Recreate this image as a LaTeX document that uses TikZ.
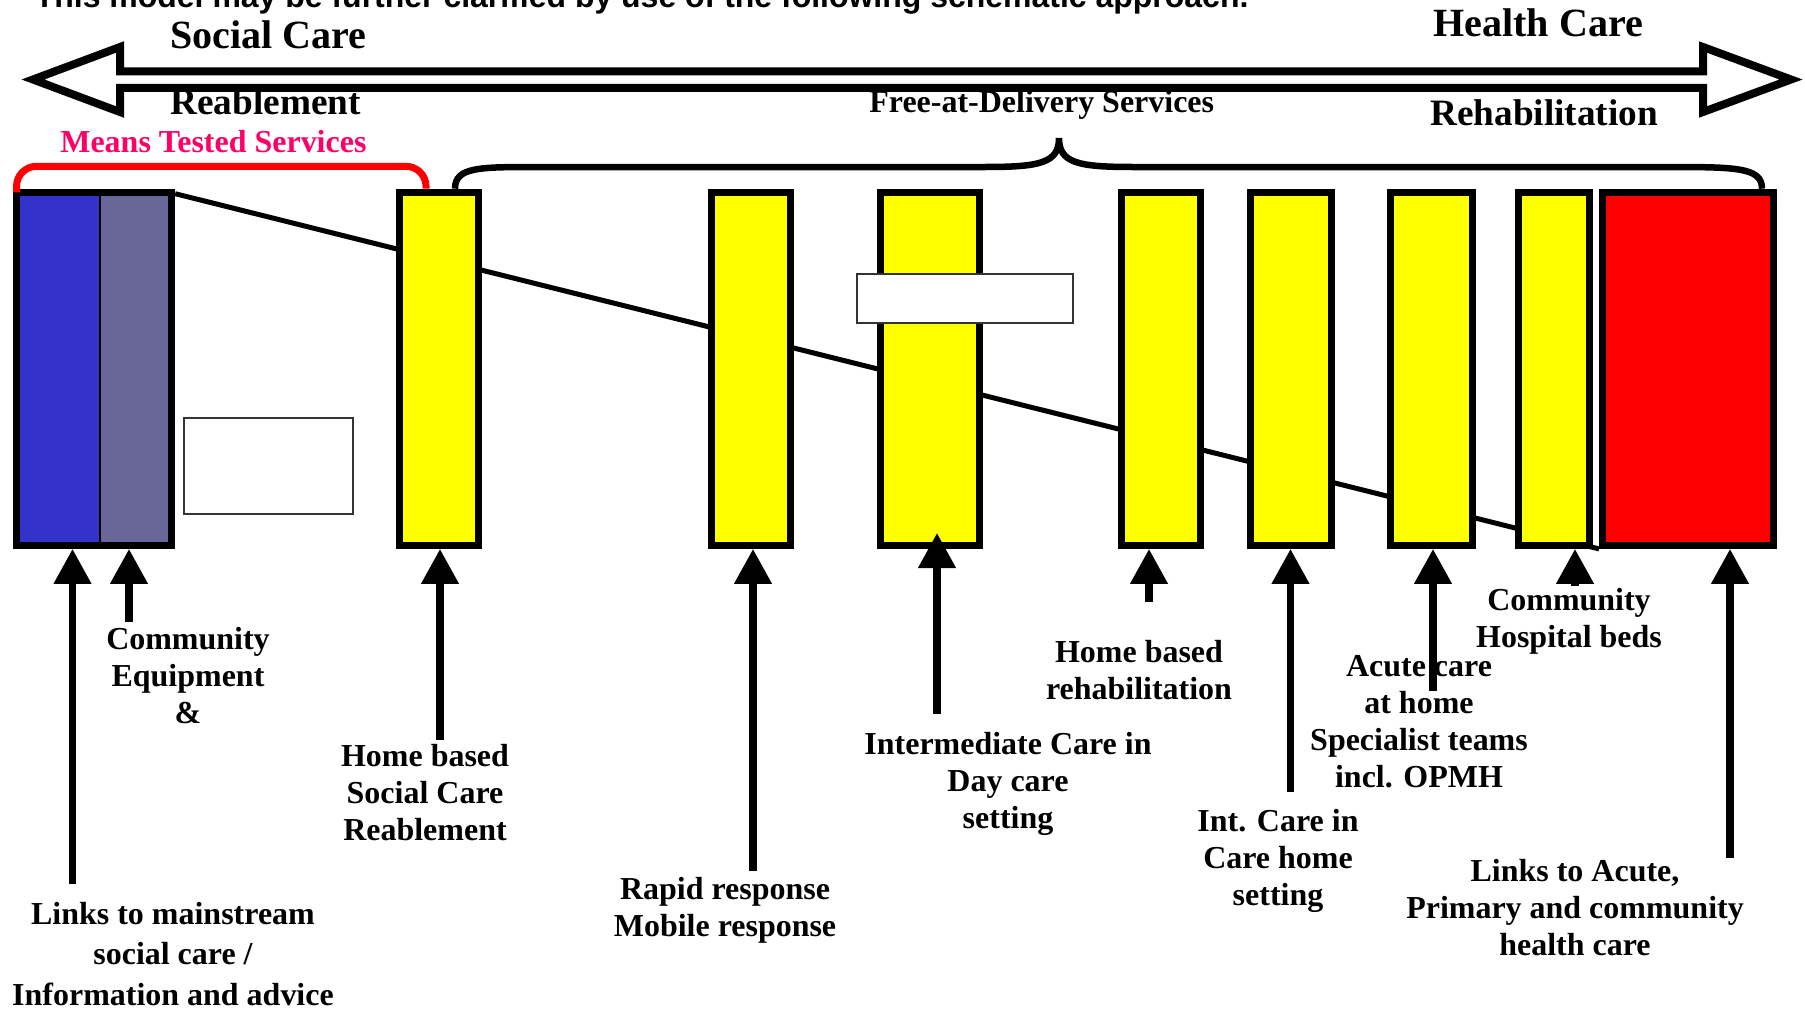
\documentclass[tikz,border=0pt]{standalone}
\usepackage{fontspec}
\setmainfont{Liberation Serif}
\newfontfamily\introfont{Liberation Sans}
\usepackage{xcolor}
\usepackage{tikz}
\usetikzlibrary{arrows.meta, fit, backgrounds}
\definecolor{careblue}{RGB}{51, 51, 204}
\definecolor{caregrey}{RGB}{102, 102, 153}
\definecolor{careolive}{RGB}{60, 60, 20}
\definecolor{careyellow}{RGB}{255, 255, 0}
\definecolor{carered}{RGB}{255, 0, 0}
\definecolor{carepink}{RGB}{255, 0, 102}

\begin{document}
\begin{tikzpicture}[
    x=0.02cm, y=-0.02cm,
    every node/.style={inner sep=0pt},
    heading/.style={font=\bfseries\fontsize{22.8}{26}\selectfont, anchor=base west},
    subheading/.style={font=\bfseries\fontsize{18.2}{21}\selectfont, anchor=base west},
    service/.style={font=\bfseries\fontsize{18.2}{21.05}\selectfont, align=center, anchor=base},
    box/.style={rectangle, draw=black, line width=0.146cm, minimum width=#1, minimum height=7.06cm},
    fillbox/.style={rectangle, draw=black, line width=0.04cm, minimum width=#1, minimum height=7.06cm, outer sep=0pt},
    blank/.style={rectangle, draw=black!80, fill=white, line width=0.03cm},
    arrow/.style={-{Triangle[length=0.7cm, width=0.72cm]}, line width=0.15cm},
    brace/.style={line width=0.13cm}
]
\useasboundingbox (0,0) rectangle (1805,1014);

\node[font=\introfont\bfseries\fontsize{18.2}{21}\selectfont, anchor=base west] (intro) at (34.5,8) {This model may be further clarified by use of the following schematic approach.};

\draw[line width=0.16cm, line join=miter] (33,79.5) -- (120,47) -- (120,71.25) -- (1703,71.25) -- (1703,47) -- (1791,79.5) -- (1703,112) -- (1703,87.75) -- (120,87.75) -- (120,112) -- cycle;

\node[heading] (social) at (170,49) {Social Care};
\node[heading] (health) at (1433,36) {Health Care};
\node[heading, font=\bfseries\fontsize{21.2}{24}\selectfont] (reabletitle) at (170,114) {Reablement};
\node[heading, font=\bfseries\fontsize{21.2}{24}\selectfont] (rehabtitle) at (1430,125.5) {Rehabilitation};
\node[subheading] (freetitle) at (869,112) {Free-at-Delivery Services};
\node[subheading, text=carepink] (meanstitle) at (60,152) {Means Tested Services};

\node[fillbox=1.43cm, fill=caregrey, draw=careolive] (equip) at (135.75,368.8) {};
\node[fillbox=1.67cm, fill=careblue] (links) at (58.25,368.8) {};
\node[draw=black, line width=0.146cm, fit=(links)(equip)] (socialframe) {};

\node[box=1.586cm, fill=careyellow] (reable) at (439,368.8) {};
\node[box=1.574cm, fill=careyellow] (rapid) at (751,368.8) {};
\node[box=1.986cm, fill=careyellow] (daycare) at (930,368.8) {};
\node[box=1.568cm, fill=careyellow] (homerehab) at (1161,368.8) {};
\node[box=1.614cm, fill=careyellow] (carehome) at (1291,368.8) {};
\node[box=1.634cm, fill=careyellow] (acute) at (1431.5,368.8) {};
\node[box=1.414cm, fill=careyellow] (commhosp) at (1554,368.8) {};
\node[box=3.414cm, fill=carered] (hospital) at (1688,368.8) {};

\node[blank, minimum width=3.38cm, minimum height=1.92cm] (note) at (268.5,466) {};
\node[blank, minimum width=4.32cm, minimum height=0.98cm] (daynote) at (965,298.5) {};

\begin{scope}[on background layer]
\draw[line width=0.1cm] ([yshift=-0.1cm]socialframe.north east) -- (hospital.south west);
\end{scope}

\draw[carered, line width=0.14cm, rounded corners=0.4cm] (links.north west) -- ++(0,-26) -| ([xshift=-0.26cm]reable.north);
\draw[brace] ([xshift=0.32cm]reable.north) .. controls +(0,-22) and +(-60,0) .. (540,167) -- (985,167) .. controls +(55,0) and +(0,25) .. (1059,138) .. controls +(0,25) and +(-55,0) .. (1133,167) -- (1660,167) .. controls +(75,0) and +(0,-22) .. ([xshift=1.48cm]hospital.north);

\coordinate (linksfoot) at (72.5,884);
\coordinate (equipfoot) at (129,622);
\coordinate (reablefoot) at (440,740);
\coordinate (rapidfoot) at (753,871);
\coordinate (dayfoot) at (937,714);
\coordinate (daytip) at (937,533);
\coordinate (rehabfoot) at (1149,602);
\coordinate (carehomefoot) at (1290.5,792);
\coordinate (acutefoot) at (1433,691);
\coordinate (commhospfoot) at (1575,586);
\coordinate (hospitalfoot) at (1730,858);

\draw[arrow] (linksfoot) -- (linksfoot |- socialframe.south);
\draw[arrow] (equipfoot) -- (equipfoot |- socialframe.south);
\draw[arrow] (reablefoot) -- (reablefoot |- reable.south);
\draw[arrow] (rapidfoot) -- (rapidfoot |- rapid.south);
\draw[arrow] (dayfoot) -- (daytip);
\draw[arrow] (rehabfoot) -- (rehabfoot |- homerehab.south);
\draw[arrow] (carehomefoot) -- (carehomefoot |- carehome.south);
\draw[arrow] (acutefoot) -- (acutefoot |- acute.south);
\draw[arrow] (commhospfoot) -- (commhospfoot |- commhosp.south);
\draw[arrow] (hospitalfoot) -- (hospitalfoot |- hospital.south);

\node[service] (equiptext) at (188,723) {Community\\Equipment\\\&};
\node[service, font=\bfseries\fontsize{18.2}{22.8}\selectfont] (linkstext) at (173,1005) {Links to mainstream\\social care /\\Information and advice};
\node[service] (reabletext) at (425,840) {Home based\\Social Care\\Reablement};
\node[service] (rapidtext) at (725,936) {Rapid response\\Mobile response};
\node[service] (daytext) at (1008,828) {Intermediate Care in\\Day care\\setting};
\node[service] (rehabtext) at (1139,699) {Home based\\rehabilitation};
\node[service] (carehometext) at (1278,905) {Int. Care in\\Care home\\setting};
\node[service] (acutetext) at (1419,787) {Acute care\\at home\\Specialist teams\\incl. OPMH};
\node[service] (hosptext) at (1569,647) {Community\\Hospital beds};
\node[service] (acutelinkstext) at (1575,955) {Links to Acute,\\Primary and community\\health care};

\end{tikzpicture}
\end{document}
